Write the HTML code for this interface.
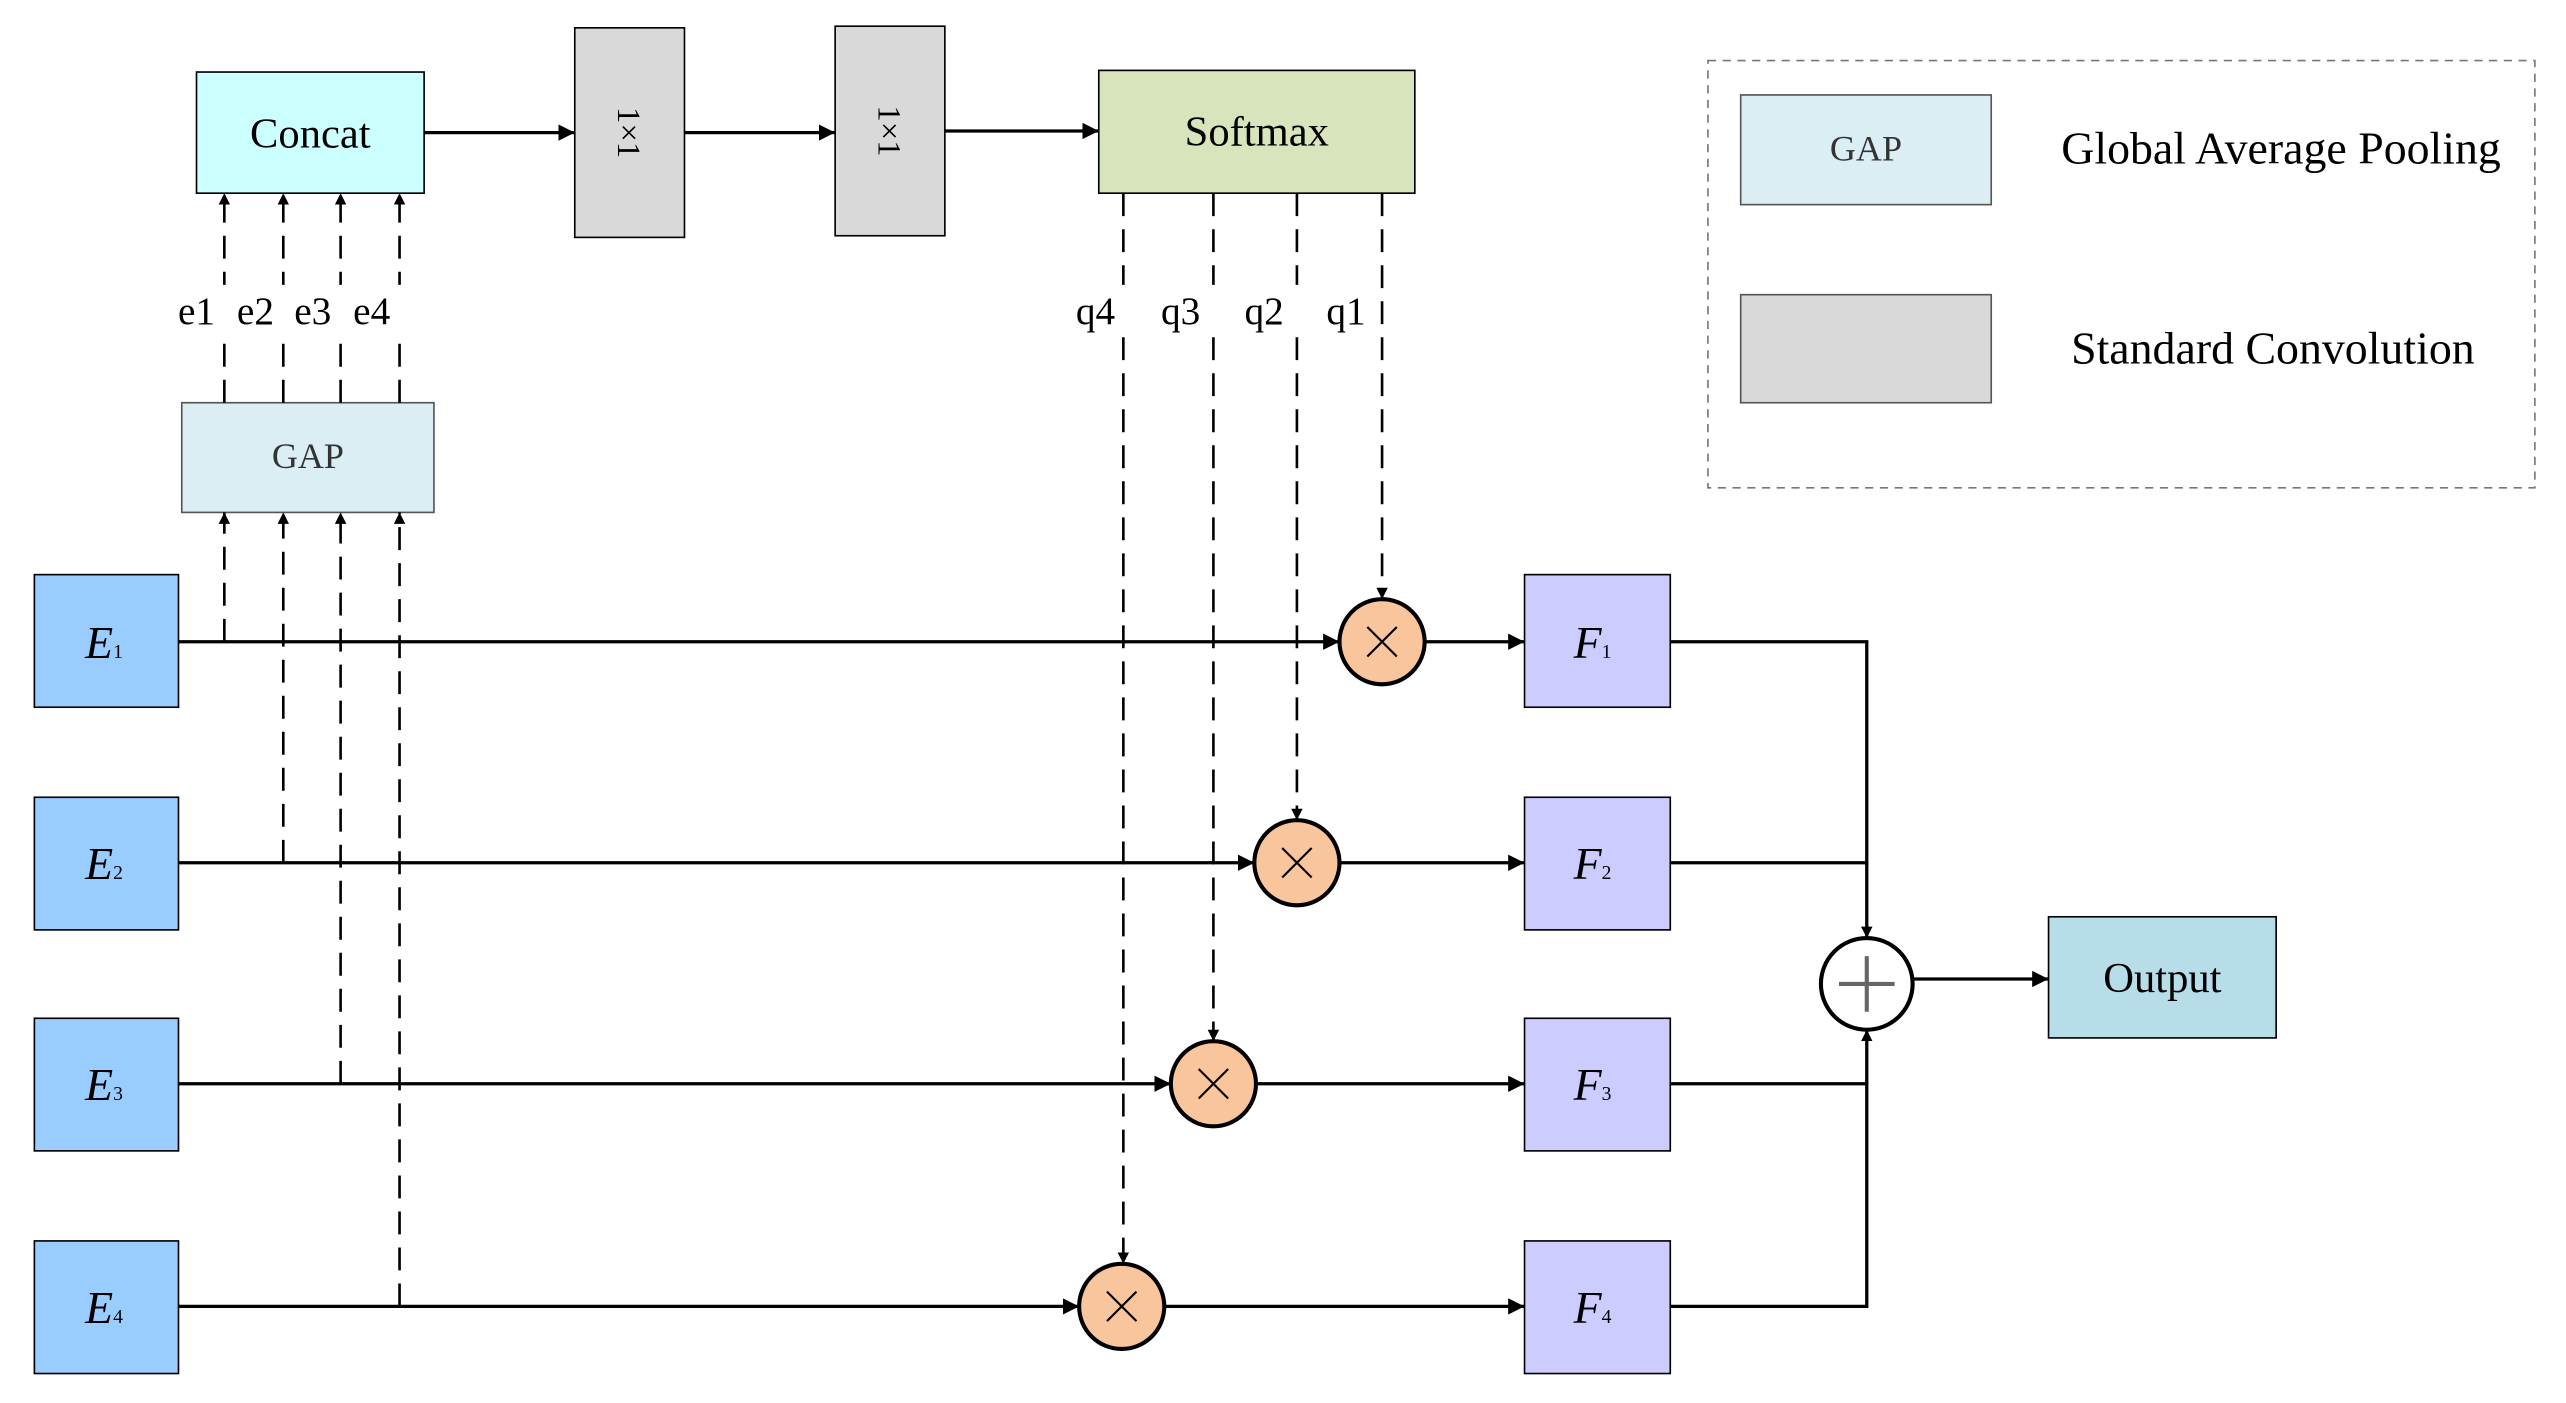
<!DOCTYPE html>
<html><head><meta charset="utf-8"><style>html,body{margin:0;padding:0;background:#fff}svg{display:block}</style></head>
<body>
<svg width="2566" height="1403" viewBox="0 0 1567 857" preserveAspectRatio="none" xmlns="http://www.w3.org/2000/svg" font-family="'Liberation Serif', serif">
<defs>
<marker id="a" viewBox="0 0 10 10" refX="10" refY="5" markerWidth="7" markerHeight="7" orient="auto" markerUnits="userSpaceOnUse"><path d="M0,0L10,5L0,10z" fill="#000"/></marker>
<marker id="b" viewBox="0 0 10 10" refX="10" refY="5" markerWidth="10" markerHeight="10" orient="auto" markerUnits="userSpaceOnUse"><path d="M0,0L10,5L0,10z" fill="#000"/></marker>
</defs>
<rect x="120" y="44" width="139" height="74" fill="#ccffff" stroke="#000"/>
<text x="189.5" y="90" font-size="26" text-anchor="middle">Concat</text>
<rect x="351" y="17" width="67" height="128" fill="#d9d9d9" stroke="#000"/>
<text transform="translate(384.5,81) rotate(90)" font-size="20" text-anchor="middle" dy="7">1×1</text>
<rect x="510" y="16" width="67" height="128" fill="#d9d9d9" stroke="#000"/>
<text transform="translate(543.5,80) rotate(90)" font-size="20" text-anchor="middle" dy="7">1×1</text>
<rect x="671" y="43" width="193" height="75" fill="#d8e4bc" stroke="#000"/>
<text x="767.5" y="89" font-size="26" text-anchor="middle">Softmax</text>
<g stroke="#000" stroke-width="2" fill="none">
<line x1="259" y1="81" x2="351" y2="81" marker-end="url(#b)"/>
<line x1="418" y1="81" x2="510" y2="81" marker-end="url(#b)"/>
<line x1="577" y1="80" x2="671" y2="80" marker-end="url(#b)"/>
</g>
<rect x="1043" y="37" width="505" height="261" fill="none" stroke="#777" stroke-dasharray="5,4"/>
<rect x="1063" y="58" width="153" height="67" fill="#daeef3" stroke="#555"/>
<text x="1139.5" y="98" font-size="22" text-anchor="middle" fill="#333">GAP</text>
<text x="1393" y="100" font-size="28" text-anchor="middle">Global Average Pooling</text>
<rect x="1063" y="180" width="153" height="66" fill="#d9d9d9" stroke="#555"/>
<text x="1388" y="222" font-size="28" text-anchor="middle">Standard Convolution</text>
<rect x="111" y="246" width="154" height="67" fill="#daeef3" stroke="#555"/>
<text x="188" y="286" font-size="22" text-anchor="middle" fill="#333">GAP</text>
<g stroke="#000" stroke-width="1.6" stroke-dasharray="14,8" fill="none">
<line x1="137" y1="246" x2="137" y2="118" marker-end="url(#a)"/>
<line x1="173" y1="246" x2="173" y2="118" marker-end="url(#a)"/>
<line x1="208" y1="246" x2="208" y2="118" marker-end="url(#a)"/>
<line x1="244" y1="246" x2="244" y2="118" marker-end="url(#a)"/>
<line x1="137" y1="392" x2="137" y2="313" marker-end="url(#a)"/>
<line x1="173" y1="527" x2="173" y2="313" marker-end="url(#a)"/>
<line x1="208" y1="662" x2="208" y2="313" marker-end="url(#a)"/>
<line x1="244" y1="798" x2="244" y2="313" marker-end="url(#a)"/>
<line x1="844" y1="118" x2="844" y2="366" marker-end="url(#a)"/>
<line x1="792" y1="118" x2="792" y2="501" marker-end="url(#a)"/>
<line x1="741" y1="118" x2="741" y2="636" marker-end="url(#a)"/>
<line x1="686" y1="118" x2="686" y2="772" marker-end="url(#a)"/>
</g>
<g font-size="24" text-anchor="middle" fill="#000">
<rect x="106" y="174" width="148" height="30" fill="#fff"/>
<rect x="652" y="174" width="186" height="30" fill="#fff"/>
<text x="120" y="198">e1</text><text x="156" y="198">e2</text><text x="191" y="198">e3</text><text x="227" y="198">e4</text>
<text x="669" y="198">q4</text><text x="721" y="198">q3</text><text x="772" y="198">q2</text><text x="822" y="198">q1</text>
</g>
<g stroke="#000" stroke-width="2" fill="none">
<line x1="109" y1="392" x2="818" y2="392" marker-end="url(#b)"/>
<line x1="870" y1="392" x2="931" y2="392" marker-end="url(#b)"/>
<line x1="109" y1="527" x2="766" y2="527" marker-end="url(#b)"/>
<line x1="818" y1="527" x2="931" y2="527" marker-end="url(#b)"/>
<line x1="109" y1="662" x2="715" y2="662" marker-end="url(#b)"/>
<line x1="767" y1="662" x2="931" y2="662" marker-end="url(#b)"/>
<line x1="109" y1="798" x2="659" y2="798" marker-end="url(#b)"/>
<line x1="711" y1="798" x2="931" y2="798" marker-end="url(#b)"/>
<polyline points="1020,392 1140,392 1140,573" marker-end="url(#a)"/>
<polyline points="1020,798 1140,798 1140,629" marker-end="url(#a)"/>
<line x1="1020" y1="527" x2="1140" y2="527"/>
<line x1="1020" y1="662" x2="1140" y2="662"/>
<line x1="1168" y1="598" x2="1251" y2="598" marker-end="url(#b)"/>
</g>
<g stroke="#000" stroke-width="1">
<rect x="21" y="351" width="88" height="81" fill="#99ccff"/>
<rect x="21" y="487" width="88" height="81" fill="#99ccff"/>
<rect x="21" y="622" width="88" height="81" fill="#99ccff"/>
<rect x="21" y="758" width="88" height="81" fill="#99ccff"/>
<rect x="931" y="351" width="89" height="81" fill="#ccccff"/>
<rect x="931" y="487" width="89" height="81" fill="#ccccff"/>
<rect x="931" y="622" width="89" height="81" fill="#ccccff"/>
<rect x="931" y="758" width="89" height="81" fill="#ccccff"/>
<rect x="1251" y="560" width="139" height="74" fill="#b7dde8"/>
</g>
<g font-size="28" font-style="italic">
<text x="52" y="402">E<tspan font-size="12" font-style="normal">1</tspan></text>
<text x="52" y="537">E<tspan font-size="12" font-style="normal">2</tspan></text>
<text x="52" y="672">E<tspan font-size="12" font-style="normal">3</tspan></text>
<text x="52" y="808">E<tspan font-size="12" font-style="normal">4</tspan></text>
<text x="961" y="402">F<tspan font-size="12" font-style="normal">1</tspan></text>
<text x="961" y="537">F<tspan font-size="12" font-style="normal">2</tspan></text>
<text x="961" y="672">F<tspan font-size="12" font-style="normal">3</tspan></text>
<text x="961" y="808">F<tspan font-size="12" font-style="normal">4</tspan></text>
</g>
<text x="1320.5" y="606" font-size="26" text-anchor="middle">Output</text>
<g stroke="#000" stroke-width="2.5" fill="#f8c59c">
<circle cx="844" cy="392" r="26"/><circle cx="792" cy="527" r="26"/><circle cx="741" cy="662" r="26"/><circle cx="685" cy="798" r="26"/>
<circle cx="1140" cy="601" r="28" fill="#fff"/>
</g>
<g stroke="#000" stroke-width="1.3">
<path d="M835,383L853,401M853,383L835,401"/>
<path d="M783,518L801,536M801,518L783,536"/>
<path d="M732,653L750,671M750,653L732,671"/>
<path d="M676,789L694,807M694,789L676,807"/>
</g>
<path d="M1140,584V618M1123,601H1157" stroke="#666" stroke-width="2.5"/>
</svg>
</body></html>
